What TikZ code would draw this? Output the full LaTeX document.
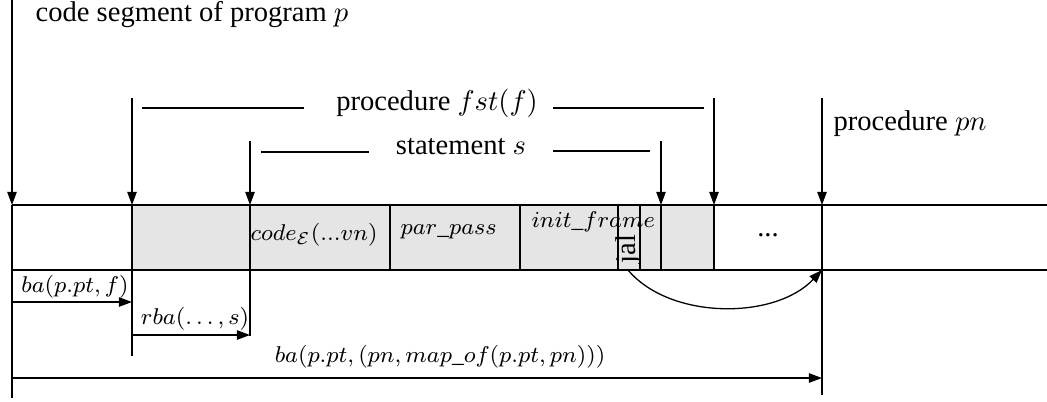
\documentclass[tikz,border=0pt]{standalone}
\usepackage{fontspec}
\setmainfont{Liberation Serif}
\usetikzlibrary{arrows.meta}

\begin{document}
\begin{tikzpicture}[x=0.35pt,y=-0.35pt,
  line width=0.45pt,
  tip/.style={-{Triangle[length=4.6pt,width=3.3pt]}},
  lbl/.style={inner sep=0pt,font=\normalsize},
  small/.style={inner sep=0pt,font=\fontsize{8.2}{10}\selectfont}]
\useasboundingbox (0,0) rectangle (1047,401);

% ---- marker positions along the code segment ----
\coordinate (segTop)  at (12,0);
\coordinate (segA)    at (12,205);
\coordinate (segBot)  at (12,398);
\coordinate (fstTop)  at (132,98);
\coordinate (fstA)    at (132,205);
\coordinate (fstB)    at (132,270);
\coordinate (fstBot)  at (132,356);
\coordinate (sTop)    at (250,141);
\coordinate (sA)      at (250,205);
\coordinate (sB)      at (250,270);
\coordinate (sBot)    at (250,336);
\coordinate (sEndTop) at (661,141);
\coordinate (sEndA)   at (661,205);
\coordinate (fEndTop) at (714,98);
\coordinate (fEndA)   at (714,205);
\coordinate (pnTop)   at (822,98);
\coordinate (pnA)     at (822,205);
\coordinate (pnB)     at (822,270);
\coordinate (pnBot)   at (822,395);

% ---- the memory band ----
\fill[black!10] (132,205) rectangle (714,270);
\draw (12,205) -- (1047,205);
\draw (12,270) -- (1047,270);
\foreach \xx in {390,520,618,640,661,714}
  \draw (\xx,205) -- (\xx,270);
\draw (fstA) -- (fstBot);
\draw (sA) -- (sBot);
\draw (pnA) -- (pnBot);
\draw (segA) -- (segBot);

% ---- entry arrows from above ----
\draw[tip] (segTop) -- (segA);
\draw[tip] (fstTop) -- (fstA);
\draw[tip] (sTop) -- (sA);
\draw[tip] (sEndTop) -- (sEndA);
\draw[tip] (fEndTop) -- (fEndA);
\draw[tip] (pnTop) -- (pnA);

% ---- headings ----
\node[lbl,anchor=west] (segLbl) at (35,15) {code segment of program $p$};
\node[lbl,anchor=west] (pnLbl) at (833,124) {procedure $pn$};
\node[lbl] (fstLbl) at (437,103) {procedure $fst(f)$};
\node[lbl] (stmLbl) at (461,147) {statement $s$};
\coordinate (fstL1) at (142,108); \coordinate (fstL2) at (304,108);
\coordinate (fstR1) at (553,108); \coordinate (fstR2) at (704,108);
\coordinate (stmL1) at (261,152); \coordinate (stmL2) at (369,152);
\coordinate (stmR1) at (553,151); \coordinate (stmR2) at (650,151);
\draw (fstL1) -- (fstL2);
\draw (fstR1) -- (fstR2);
\draw (stmL1) -- (stmL2);
\draw (stmR1) -- (stmR2);

% ---- cell contents ----
\node[small,anchor=west] (codeLbl) at (250,235) {$code_{\mathcal{E}}(...vn)$};
\node[small,anchor=west] (parLbl) at (400,232) {$par\_pass$};
\node[small,anchor=west] (initLbl) at (531,222) {$init\_frame$};
\node[lbl,rotate=90] (jalLbl) at (629,249) {jal};
\node[lbl] (dotsLbl) at (768,235) {...};

% ---- jump from jal to procedure pn ----
\coordinate (jalOut) at (628,270);
\draw[tip] (jalOut) .. controls (670,320) and (775,320) .. (pnB);

% ---- address offsets ----
\coordinate (baF1) at (12,302);  \coordinate (baF2) at (132,302);
\coordinate (rba1) at (132,335); \coordinate (rba2) at (250,335);
\coordinate (baP1) at (12,378);  \coordinate (baP2) at (822,378);
\draw[tip] (baF1) -- (baF2);
\draw[tip] (rba1) -- (rba2);
\draw[tip] (baP1) -- (baP2);
\node[small] (baFLbl) at (75,287) {$ba(p.pt,f)$};
\node[small] (rbaLbl) at (195,319) {$rba(\ldots,s)$};
\node[small] (baPLbl) at (440,357) {$ba(p.pt,(pn,map\_of(p.pt,pn)))$};
\end{tikzpicture}
\end{document}
